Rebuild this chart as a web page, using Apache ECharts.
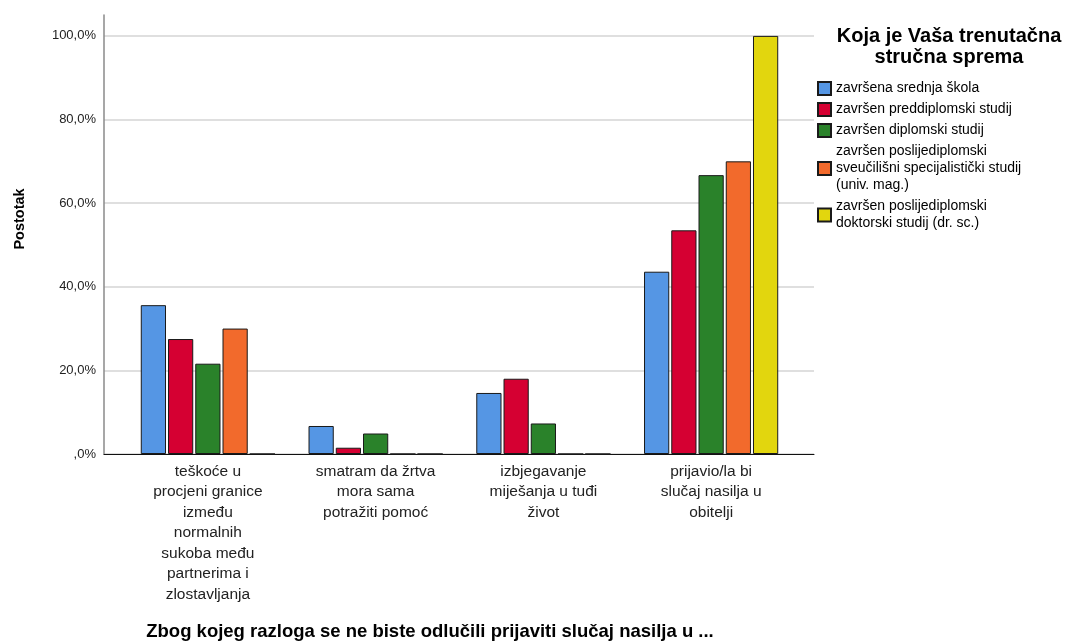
<!DOCTYPE html>
<html>
<head>
<meta charset="utf-8">
<script src="https://cdn.jsdelivr.net/npm/echarts@6/dist/echarts.min.js"></script>
<style>html,body{margin:0;padding:0;background:#fff}#c{width:1065px;height:643px}</style>
</head>
<body>
<div id="c"></div>
<script>
const categories = [
  'teškoće u\nprocjeni granice\nizmeđu\nnormalnih\nsukoba među\npartnerima i\nzlostavljanja',
  'smatram da žrtva\nmora sama\npotražiti pomoć',
  'izbjegavanje\nmiješanja u tuđi\nživot',
  'prijavio/la bi\nslučaj nasilja u\nobitelji'
];
const seriesNames = [
  'završena srednja škola',
  'završen preddiplomski studij',
  'završen diplomski studij',
  'završen poslijediplomski\nsveučilišni specijalistički studij\n(univ. mag.)',
  'završen poslijediplomski\ndoktorski studij (dr. sc.)'
];
const srednja = [35.6, 6.7, 14.6, 43.6];
const preddiplomski = [27.5, 1.5, 18.0, 53.5];
const diplomski = [21.6, 4.9, 7.3, 66.7];
const univMag = [30.0, 0, 0, 70.0];
const drSc = [0, 0, 0, 100];
const yTicks = [0, 20, 40, 60, 80, 100];
const legendTitle = 'Koja je Vaša trenutačna\nstručna sprema';
const yName = 'Postotak';
const xName = 'Zbog kojeg razloga se ne biste odlučili prijaviti slučaj nasilja u ...';

const colors = ['#5596e4', '#d50032', '#2a822a', '#f26a2c', '#e2d60e'];
const values = [srednja, preddiplomski, diplomski, univMag, drSc];
const FONT = '"Liberation Sans", Arial, sans-serif';

const chart = echarts.init(document.getElementById('c'));
chart.setOption({
  animation: false,
  color: colors,
  textStyle: { fontFamily: FONT },
  title: {
    text: legendTitle,
    left: 944, top: 21, textAlign: 'center',
    textStyle: { fontSize: 20, fontWeight: 'bold', lineHeight: 21, color: '#000', fontFamily: FONT }
  },
  legend: {
    orient: 'vertical', left: 812, top: 75,
    itemWidth: 13, itemHeight: 13, itemGap: 4,
    icon: 'rect',
    textStyle: { fontSize: 14, lineHeight: 17, color: '#000', fontFamily: FONT },
    data: seriesNames
  },
  grid: [
    { left: 104, right: 251, top: 15, bottom: 189 },
    { left: 124, right: 270, top: 15, bottom: 189 }
  ],
  xAxis: [
    { gridIndex: 0, type: 'value', min: 0, max: 1, show: true,
      axisLine: { show: true, onZero: false, lineStyle: { color: '#111', width: 1 } },
      axisTick: { show: false }, axisLabel: { show: false }, splitLine: { show: false } },
    { gridIndex: 1, type: 'category', data: categories,
      axisLine: { show: false }, axisTick: { show: false },
      axisLabel: { interval: 0, fontSize: 15.5, lineHeight: 20.5, color: '#222', margin: 7, fontFamily: FONT } }
  ],
  yAxis: [
    { gridIndex: 0, type: 'value', min: 0, max: 105, interval: 20,
      axisLine: { show: true, lineStyle: { color: '#8a8a8a', width: 1.5 } },
      axisTick: { show: false },
      axisLabel: { fontSize: 13, color: '#222', margin: 8, fontFamily: FONT,
        formatter: v => yTicks.indexOf(v) >= 0 ? (v === 0 ? ',0%' : v.toFixed(1).replace('.', ',') + '%') : '' },
      splitLine: { show: true, showMaxLine: false, lineStyle: { color: '#d4d4d4', width: 1.5 } } },
    { gridIndex: 1, type: 'value', min: 0, max: 105, show: false, splitLine: { show: false } }
  ],
  series: values.map((d, i) => ({
    name: seriesNames[i], type: 'bar', xAxisIndex: 1, yAxisIndex: 1, data: d,
    barCategoryGap: '20%', barGap: '8%',
    itemStyle: { color: colors[i], borderColor: '#1a1a1a', borderWidth: 1 }
  })),
  graphic: [
    { type: 'text', x: 20, y: 219, rotation: Math.PI / 2,
      style: { text: yName, fontSize: 14.5, fontWeight: 'bold', fill: '#000', fontFamily: FONT,
        textAlign: 'center', textVerticalAlign: 'middle' } },
    { type: 'text', x: 430, y: 632,
      style: { text: xName, fontSize: 18.5, fontWeight: 'bold', fill: '#000', fontFamily: FONT,
        textAlign: 'center', textVerticalAlign: 'middle' } }
  ]
});
</script>
</body>
</html>
